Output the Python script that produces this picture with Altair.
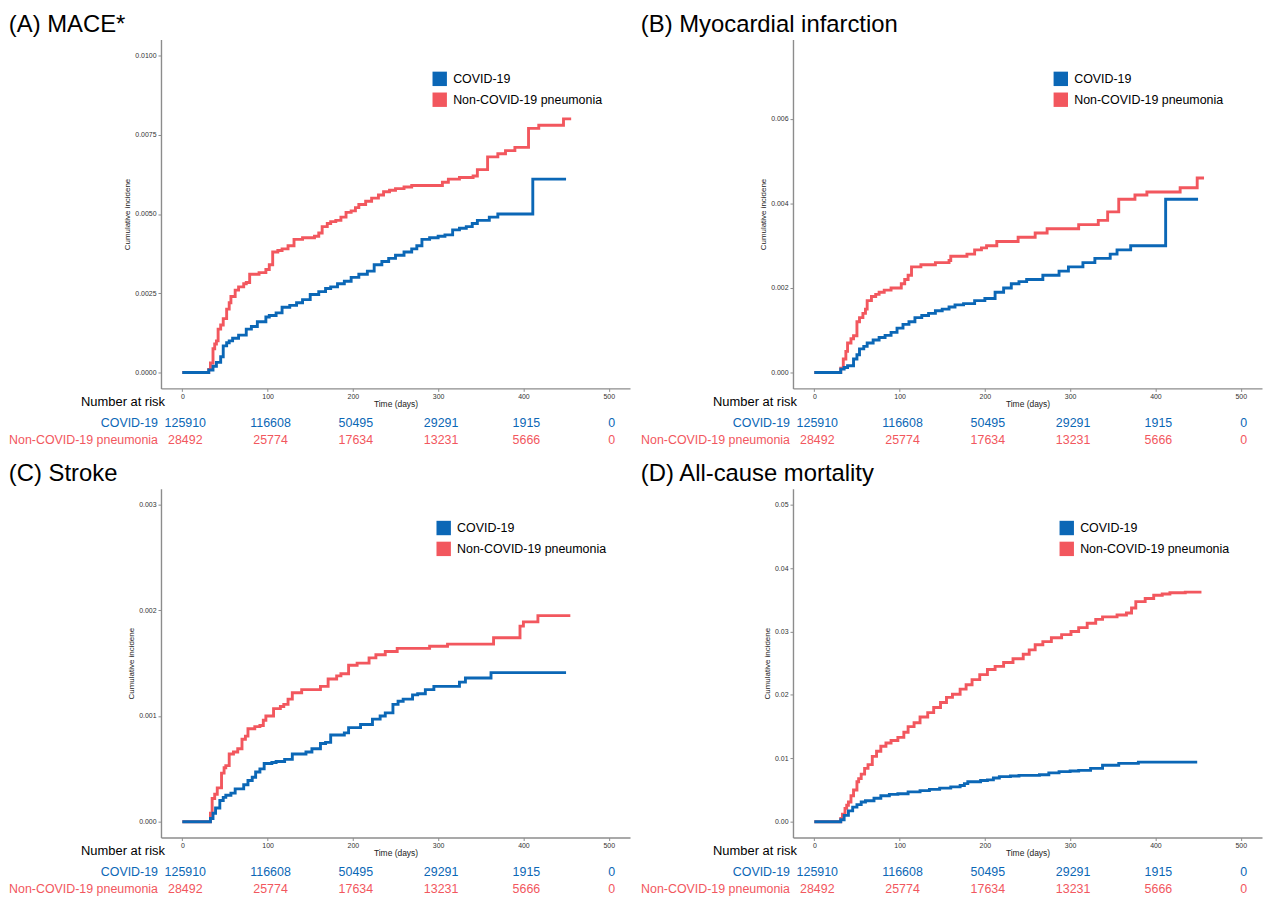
import altair as alt
import pandas as pd

FONT = "Liberation Sans"
GROUPS = ["COVID-19", "Non-COVID-19 pneumonia"]
COLORS = ["#0B67B6", "#F2575E"]

X_TICKS = [0, 100, 200, 300, 400, 500]
RISK_COVID = [125910, 116608, 50495, 29291, 1915, 0]
RISK_PNEU = [28492, 25774, 17634, 13231, 5666, 0]

# (A) MACE*
A_COVID_T = [0, 31, 36, 40, 45, 48, 52, 55, 59, 66, 75, 81, 88, 98, 102, 110, 117, 126, 134, 141, 150, 160, 168, 174, 182, 190, 198, 207, 217, 225, 234, 242, 250, 260, 269, 275, 281, 290, 300, 308, 317, 325, 333, 340, 346, 353, 360, 370, 411, 450]
A_COVID_Y = [0, 0.00008, 0.0002, 0.00032, 0.0005, 0.00084, 0.00094, 0.001, 0.00108, 0.00118, 0.00137, 0.00145, 0.0016, 0.00175, 0.0018, 0.00188, 0.00206, 0.00212, 0.0022, 0.0023, 0.00246, 0.00255, 0.00265, 0.0027, 0.0028, 0.00288, 0.003, 0.0031, 0.0032, 0.0034, 0.0035, 0.0036, 0.0037, 0.0038, 0.0039, 0.004, 0.0042, 0.00425, 0.0043, 0.00434, 0.0045, 0.00455, 0.0046, 0.0047, 0.0048, 0.0048, 0.0049, 0.005, 0.0061, 0.0061]
A_PNEU_T = [0, 31, 33, 36, 38, 40, 42, 45, 48, 52, 55, 57, 62, 66, 72, 75, 79, 90, 98, 102, 106, 112, 117, 124, 131, 141, 155, 160, 164, 170, 174, 180, 186, 192, 198, 203, 207, 215, 222, 230, 236, 243, 250, 260, 269, 285, 305, 312, 325, 341, 346, 352, 358, 370, 379, 390, 398, 406, 418, 447, 456]
A_PNEU_Y = [0, 0.0001, 0.0003, 0.00075, 0.0009, 0.001, 0.00137, 0.0015, 0.0017, 0.002, 0.0022, 0.0024, 0.0026, 0.0027, 0.0028, 0.00284, 0.0031, 0.00315, 0.00325, 0.0034, 0.0038, 0.00385, 0.0039, 0.004, 0.0042, 0.00425, 0.0043, 0.0044, 0.0046, 0.0047, 0.00476, 0.0048, 0.0049, 0.00505, 0.0051, 0.0052, 0.0053, 0.0054, 0.0055, 0.0056, 0.0057, 0.00575, 0.0058, 0.00585, 0.0059, 0.0059, 0.006, 0.0061, 0.00615, 0.0062, 0.0064, 0.0064, 0.0068, 0.0069, 0.007, 0.0071, 0.0071, 0.0077, 0.0078, 0.008, 0.008]

# (B) Myocardial infarction
B_COVID_T = [0, 31, 35, 39, 46, 50, 53, 58, 62, 69, 76, 83, 90, 97, 104, 111, 118, 126, 134, 142, 150, 158, 165, 175, 188, 200, 212, 222, 231, 240, 249, 258, 268, 278, 287, 298, 310, 315, 322, 329, 338, 347, 355, 362, 371, 412, 450]
B_COVID_Y = [0, 0.00008, 0.00012, 0.00016, 0.00032, 0.00042, 0.00056, 0.00062, 0.0007, 0.00077, 0.00083, 0.00088, 0.00095, 0.00105, 0.00114, 0.0012, 0.0013, 0.00135, 0.0014, 0.00146, 0.0015, 0.00155, 0.0016, 0.00163, 0.0017, 0.00175, 0.0019, 0.002, 0.0021, 0.00215, 0.0022, 0.0022, 0.0023, 0.0023, 0.0024, 0.0025, 0.0025, 0.0026, 0.0026, 0.0027, 0.0027, 0.0028, 0.0029, 0.0029, 0.003, 0.0041, 0.0041]
B_PNEU_T = [0, 31, 34, 37, 39, 43, 46, 50, 53, 57, 60, 62, 67, 72, 76, 82, 90, 102, 106, 110, 114, 125, 142, 158, 160, 179, 188, 196, 202, 214, 239, 259, 273, 305, 310, 333, 344, 357, 376, 390, 429, 449, 457]
B_PNEU_Y = [0, 0.0001, 0.00032, 0.0005, 0.0007, 0.0008, 0.00087, 0.0012, 0.0013, 0.0014, 0.0015, 0.0017, 0.0018, 0.00185, 0.0019, 0.00195, 0.002, 0.0021, 0.0022, 0.0023, 0.0025, 0.00255, 0.0026, 0.00265, 0.00275, 0.0028, 0.0029, 0.00295, 0.003, 0.0031, 0.0032, 0.0033, 0.0034, 0.0034, 0.0035, 0.0036, 0.0038, 0.0041, 0.0042, 0.00427, 0.00437, 0.0046, 0.0046]

# (C) Stroke
C_COVID_T = [0, 33, 36, 39, 44, 48, 51, 57, 62, 72, 77, 82, 86, 91, 96, 105, 110, 120, 129, 145, 152, 162, 168, 174, 190, 195, 209, 223, 232, 238, 247, 253, 259, 270, 276, 285, 295, 325, 332, 362, 450]
C_COVID_Y = [0, 0.00003, 0.00008, 0.00013, 0.0002, 0.00023, 0.00025, 0.00027, 0.00031, 0.00035, 0.00039, 0.00042, 0.00047, 0.0005, 0.00055, 0.00056, 0.00057, 0.00059, 0.00064, 0.00066, 0.00069, 0.00074, 0.00075, 0.00082, 0.00084, 0.00089, 0.00092, 0.00097, 0.001, 0.00103, 0.00111, 0.00114, 0.00116, 0.0012, 0.00121, 0.00125, 0.00128, 0.00132, 0.00136, 0.00141, 0.00141]
C_PNEU_T = [0, 33, 35, 38, 41, 46, 49, 51, 55, 60, 65, 70, 74, 77, 85, 91, 95, 98, 107, 115, 119, 124, 129, 140, 157, 162, 171, 181, 186, 195, 205, 219, 227, 238, 252, 290, 311, 365, 396, 400, 417, 455]
C_PNEU_Y = [0, 0.00008, 0.00022, 0.00026, 0.00032, 0.00046, 0.00051, 0.00053, 0.00064, 0.00066, 0.00069, 0.00078, 0.00081, 0.00088, 0.0009, 0.00091, 0.00096, 0.001, 0.00107, 0.00109, 0.00111, 0.00116, 0.00122, 0.00125, 0.00125, 0.00128, 0.00135, 0.00138, 0.0014, 0.00148, 0.0015, 0.00155, 0.00158, 0.00161, 0.00164, 0.00166, 0.00168, 0.00174, 0.00185, 0.00189, 0.00195, 0.00195]

# (D) All-cause mortality
D_COVID_T = [0, 31, 35, 40, 45, 50, 55, 60, 70, 78, 88, 98, 110, 124, 135, 147, 160, 171, 176, 180, 195, 203, 210, 217, 230, 240, 264, 275, 287, 300, 310, 324, 338, 357, 380, 449]
D_COVID_Y = [0, 0.0003, 0.001, 0.0017, 0.0023, 0.0027, 0.0031, 0.0033, 0.0037, 0.0041, 0.0043, 0.0044, 0.0047, 0.0049, 0.0051, 0.0053, 0.0055, 0.0057, 0.006, 0.0063, 0.0065, 0.0066, 0.0069, 0.0071, 0.0072, 0.0073, 0.0074, 0.0077, 0.0079, 0.008, 0.0081, 0.0084, 0.0089, 0.0092, 0.0094, 0.0094]
D_PNEU_T = [0, 31, 33, 36, 38, 40, 43, 46, 50, 52, 55, 59, 63, 68, 73, 78, 84, 90, 98, 105, 110, 117, 124, 133, 140, 148, 155, 162, 171, 178, 185, 194, 203, 212, 222, 233, 245, 252, 259, 268, 278, 290, 301, 310, 320, 330, 338, 355, 366, 372, 377, 388, 398, 408, 417, 435, 454]
D_PNEU_Y = [0, 0.0005, 0.0012, 0.0021, 0.0026, 0.0031, 0.0041, 0.005, 0.0063, 0.0068, 0.0075, 0.0084, 0.009, 0.0103, 0.0111, 0.0119, 0.0124, 0.0128, 0.0133, 0.0141, 0.015, 0.0156, 0.0165, 0.0172, 0.018, 0.0188, 0.0196, 0.0201, 0.0209, 0.0216, 0.0224, 0.0232, 0.024, 0.0245, 0.0251, 0.0257, 0.0264, 0.0271, 0.0279, 0.0284, 0.029, 0.0295, 0.03, 0.0306, 0.0313, 0.0319, 0.0323, 0.0326, 0.0329, 0.0337, 0.0347, 0.0352, 0.0357, 0.0359, 0.0361, 0.0362, 0.0362]

W, H = 472, 351


def panel(title, cov_t, cov_y, pn_t, pn_y, ydom, yvals, yfmt, lx):
    xs = alt.Scale(domain=[-25, 525], nice=False, zero=False)
    xaxis = alt.Axis(values=X_TICKS, title="Time (days)", format="d",
                     labelPadding=1, titlePadding=0, titleFontSize=8.5,
                     labelColor="#333333", titleColor="#222222")
    X = alt.X("t:Q", scale=xs, axis=xaxis)
    Y = alt.Y("y:Q", scale=alt.Scale(domain=ydom, nice=False, zero=False),
              axis=alt.Axis(values=yvals, format=yfmt, title="Cumulative incidene",
                            labelPadding=2, titlePadding=3,
                            labelColor="#333333", titleColor="#222222"))
    df_c = pd.DataFrame({"t": cov_t, "y": cov_y})
    df_p = pd.DataFrame({"t": pn_t, "y": pn_y})
    line_p = alt.Chart(df_p).mark_line(interpolate="step-after", strokeWidth=2.9,
                                       color=COLORS[1]).encode(x=X, y=Y)
    line_c = alt.Chart(df_c).mark_line(interpolate="step-after", strokeWidth=2.9,
                                       color=COLORS[0]).encode(x=X, y=Y)
    leg = alt.Chart(pd.DataFrame({"group": GROUPS})).transform_filter("false").mark_square(
        size=210, opacity=1).encode(
        fill=alt.Fill("group:N", scale=alt.Scale(domain=GROUPS, range=COLORS),
                      legend=alt.Legend(title=None, orient="none", legendX=lx, legendY=32,
                                        symbolType="square", symbolSize=210,
                                        symbolStrokeWidth=0, symbolOpacity=1,
                                        labelFont=FONT, labelFontSize=12.5,
                                        labelColor="black", rowPadding=6,
                                        labelOffset=6, padding=0)))
    risk_c = alt.Chart(pd.DataFrame({"t": X_TICKS, "n": RISK_COVID})).mark_text(
        font=FONT, fontSize=12.5, color=COLORS[0], baseline="middle", dx=3).encode(
        x=X, y=alt.value(H + 35), text=alt.Text("n:Q", format="d"))
    risk_p = alt.Chart(pd.DataFrame({"t": X_TICKS, "n": RISK_PNEU})).mark_text(
        font=FONT, fontSize=12.5, color=COLORS[1], baseline="middle", dx=3).encode(
        x=X, y=alt.value(H + 52), text=alt.Text("n:Q", format="d"))
    lab_c = alt.Chart(pd.DataFrame({"label": [GROUPS[0]]})).mark_text(
        font=FONT, fontSize=12.5, color=COLORS[0], align="right", baseline="middle").encode(
        x=alt.value(-3), y=alt.value(H + 35), text="label:N")
    lab_p = alt.Chart(pd.DataFrame({"label": [GROUPS[1]]})).mark_text(
        font=FONT, fontSize=12.5, color=COLORS[1], align="right", baseline="middle").encode(
        x=alt.value(-3), y=alt.value(H + 52), text="label:N")
    nar = alt.Chart(pd.DataFrame({"label": ["Number at risk"]})).mark_text(
        font=FONT, fontSize=13, color="black", align="right", baseline="middle").encode(
        x=alt.value(4), y=alt.value(H + 14), text="label:N")
    return alt.layer(line_p, line_c, leg, risk_c, risk_p, lab_c, lab_p, nar).properties(
        width=W, height=H,
        title=alt.TitleParams(title, anchor="start", frame="bounds", fontSize=24,
                              fontWeight="normal", font=FONT, color="black", offset=3))


pA = panel("(A) MACE*", A_COVID_T, A_COVID_Y, A_PNEU_T, A_PNEU_Y,
           [-0.0005, 0.0105], [0, 0.0025, 0.005, 0.0075, 0.01], ".4f", 273)
pB = panel("(B) Myocardial infarction", B_COVID_T, B_COVID_Y, B_PNEU_T, B_PNEU_Y,
           [-0.000375, 0.007875], [0, 0.002, 0.004, 0.006], ".3f", 262)
pC = panel("(C) Stroke", C_COVID_T, C_COVID_Y, C_PNEU_T, C_PNEU_Y,
           [-0.00015, 0.00315], [0, 0.001, 0.002, 0.003], ".3f", 277)
pD = panel("(D) All-cause mortality", D_COVID_T, D_COVID_Y, D_PNEU_T, D_PNEU_Y,
           [-0.0025, 0.0525], [0, 0.01, 0.02, 0.03, 0.04, 0.05], ".2f", 268)

top = alt.hconcat(pA, pB, spacing=10).resolve_scale(fill="independent").resolve_legend(fill="independent")
bottom = alt.hconcat(pC, pD, spacing=10).resolve_scale(fill="independent").resolve_legend(fill="independent")

chart = alt.vconcat(top, bottom, spacing=15).resolve_scale(
    fill="independent").resolve_legend(fill="independent").properties(
    padding={"left": 8, "top": 10, "right": 2, "bottom": 2},
    background="white"
).configure_view(stroke=None).configure_axis(
    domainColor="#8c8c8c", domainWidth=1.4, tickColor="#8c8c8c", tickSize=3,
    labelFont=FONT, titleFont=FONT, labelFontSize=7, labelColor="#333333",
    titleFontSize=8, titleFontWeight="normal", titleColor="#222222", grid=False
)

chart.save("out.html", embed_options={"renderer": "svg", "actions": False})
